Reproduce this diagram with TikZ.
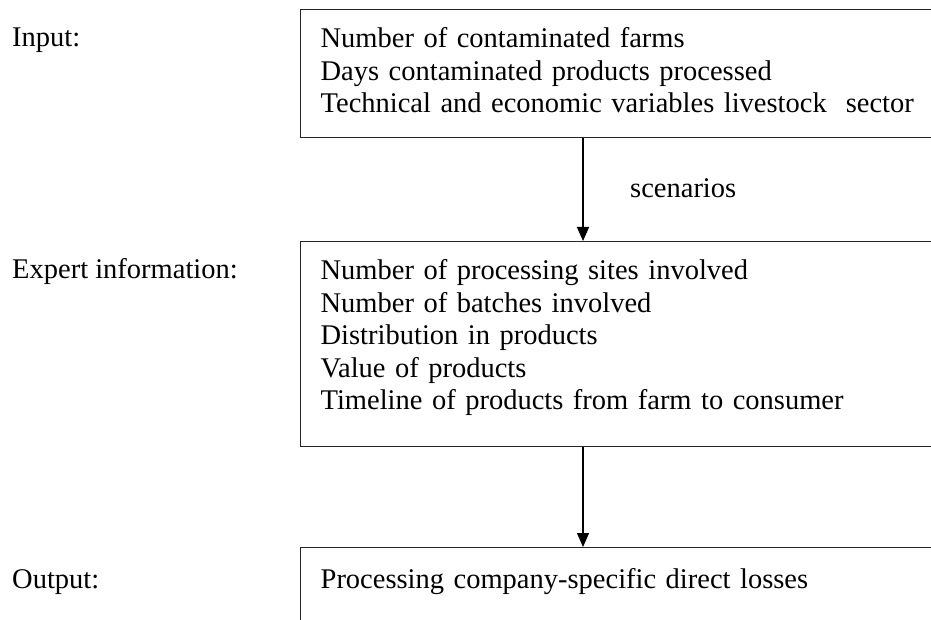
\documentclass[tikz,border=0pt]{standalone}
\usepackage{fontspec}
\setmainfont{Liberation Serif}
\usetikzlibrary{arrows.meta}

\tikzset{
  stagebox/.style={draw=black!85, line width=1.3pt, anchor=north west,
    text width=620pt, align=left, inner xsep=20pt, inner ysep=0pt},
  rowlabel/.style={anchor=base west, inner sep=0pt}
}

\begin{document}
\begin{tikzpicture}[x=1pt, y=-1pt, >={Triangle[width=12pt,length=14pt]},
    font=\fontsize{28.5}{32.5}\selectfont]
            \useasboundingbox (0,0) rectangle (931,620);
            % Zeilenbeschriftung links
            \node[rowlabel] (lin) at (12,47) {Input:};
            \node[rowlabel] (lexp) at (12,279) {Expert information:};
            \node[rowlabel] (lout) at (12,588) {Output:};

            % Kaestchen
            \node[stagebox, text height=38pt, text depth=90pt] (inp) at (300,9)
              {Number of contaminated farms\\Days contaminated products processed\\Technical and economic variables livestock~ sector};
            \node[stagebox, text height=38pt, text depth=167pt] (expert) at (300,241)
              {Number of processing sites involved\\Number of batches involved\\Distribution in products\\Value of products\\Timeline of products from farm to consumer};
            \node[stagebox, text height=41pt, text depth=80pt] (outp) at (300,547)
              {Processing company-specific direct losses};

            % Pfeile
            \draw[->, line width=1.3pt] ([xshift=283pt]inp.south west) -- ([xshift=283pt]expert.north west);
            \draw[->, line width=1.3pt] ([xshift=283pt]expert.south west) -- ([xshift=283pt]outp.north west);
            \node[rowlabel] (scen) at (630,198) {scenarios};
        \end{tikzpicture}
\end{document}
